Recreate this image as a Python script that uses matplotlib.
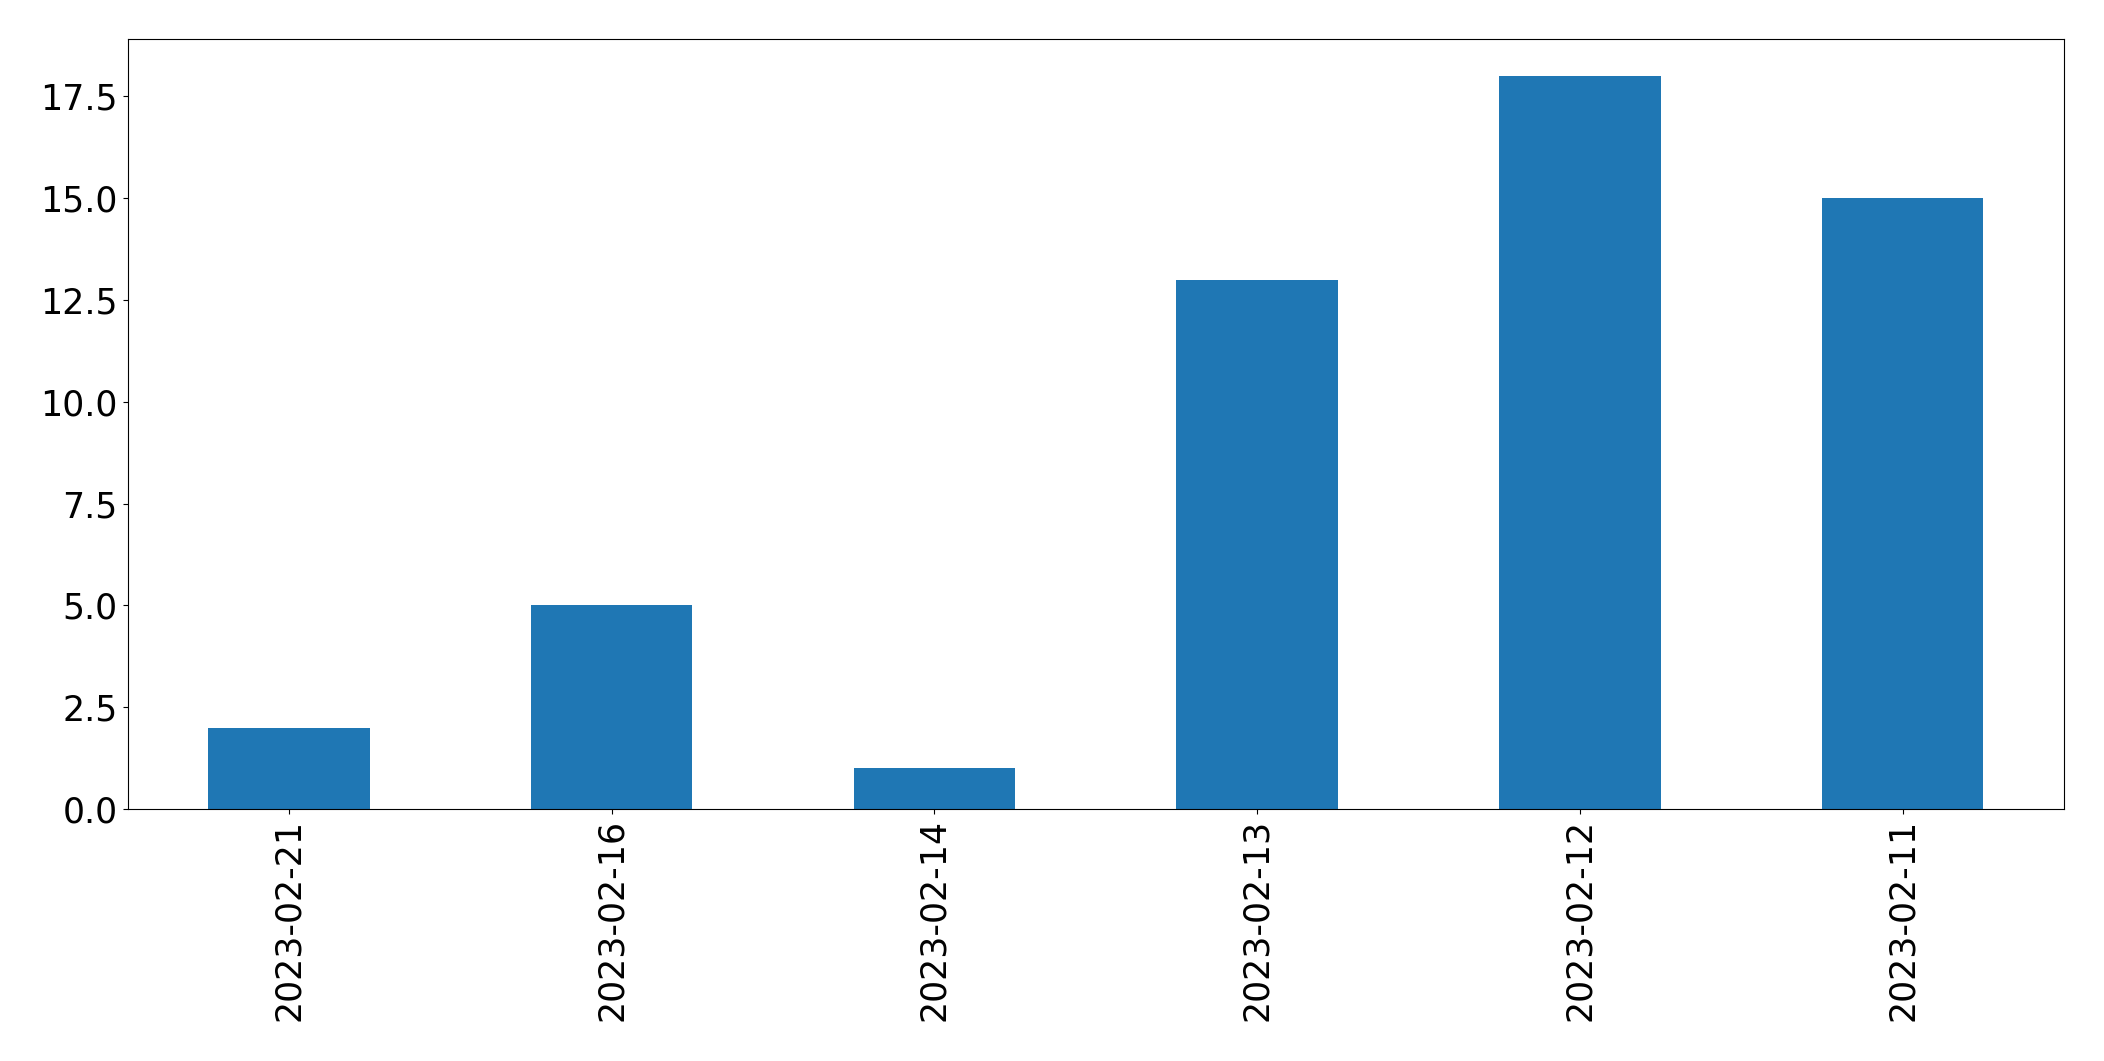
import matplotlib
matplotlib.use('Agg')
import matplotlib.pyplot as plt
import pandas as pd

# dates and counts
dates = ['2023-02-21', '2023-02-16', '2023-02-14', '2023-02-13', '2023-02-12', '2023-02-11']
counts = [2, 5, 1, 13, 18, 15]

s = pd.Series(counts, index=dates)

fig, ax = plt.subplots(figsize=(21.04, 10.61), dpi=100)
s.plot(kind='bar', ax=ax, color='#1f77b4', fontsize=25)
ax.tick_params(axis='x', labelrotation=90)
plt.subplots_adjust(left=0.0606, right=0.981, top=0.963, bottom=0.2375)
plt.savefig('out.png', dpi=100)
